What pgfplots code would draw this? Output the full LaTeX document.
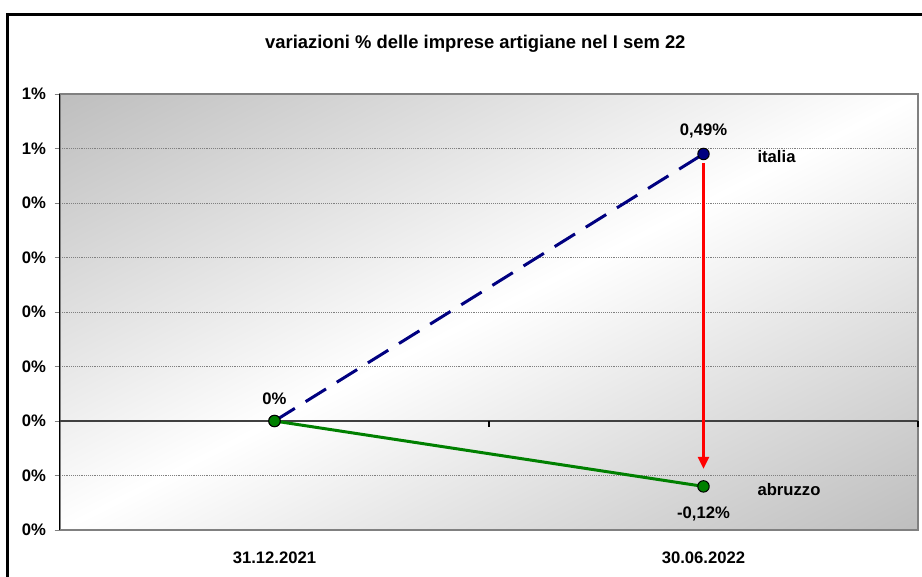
\documentclass[border=0pt]{standalone}
\usepackage{pgfplots}
\pgfplotsset{compat=1.18}
\usepackage{fontspec}
\setmainfont{Liberation Sans}
\usetikzlibrary{arrows.meta}
\definecolor{navyline}{RGB}{0,0,128}
\definecolor{greenline}{RGB}{0,128,0}
\definecolor{gridgray}{RGB}{128,128,128}
\definecolor{bggray}{RGB}{190,190,190}
\begin{document}
\begin{tikzpicture}
\useasboundingbox (0,0) rectangle (691.5pt,432pt);
\clip (0,0) rectangle (691.5pt,432pt);
\fill[white] (0,0) rectangle (691.5pt,432pt);
\draw[black, line width=2.25pt] (5.6pt,-20pt) -- (5.6pt,421.1pt) -- (720pt,421.1pt);
\node[font=\bfseries\fontsize{13.8}{16}\selectfont] at (356.5pt,399.5pt) {variazioni \% delle imprese artigiane nel I sem 22};
% plot area background: diagonal gradient (grey - white - grey)
\begin{scope}
\clip (45pt,34.5pt) rectangle (688.5pt,361.5pt);
\shade[transform canvas={rotate around={-63.1:(366.75pt,198pt)}},
  left color=bggray, right color=bggray, middle color=white]
  (366.75pt-291pt,198pt-370pt) rectangle (366.75pt+291pt,198pt+370pt);
\end{scope}
\begin{axis}[
  at={(45pt,34.5pt)}, anchor=south west,
  scale only axis, width=643.5pt, height=327pt,
  xmin=-0.5, xmax=1.5, ymin=-0.2, ymax=0.6,
  xtick={0,1}, xticklabels={31.12.2021,30.06.2022},
  ytick={-0.2,-0.1,0,0.1,0.2,0.3,0.4,0.5,0.6},
  yticklabels={0\%,0\%,0\%,0\%,0\%,0\%,0\%,1\%,1\%},
  tick label style={font=\bfseries\fontsize{12.5}{15}\selectfont},
  /pgf/number format/assume math mode=true,
  x tick style={draw=none},
  xtick pos=bottom, ytick pos=left,
  y tick style={gridgray, line width=0.75pt},
  major tick length=4pt,
  tick align=outside,
  xticklabel style={yshift=-9pt},
  yticklabel style={xshift=-3pt},
  ymajorgrids, grid style={gridgray, densely dotted, line width=0.75pt},
  axis line style={gridgray, line width=1pt},
  clip=false,
]
\draw[black, line width=0.75pt] (axis cs:-0.5,0.6) -- (axis cs:-0.5,-0.2);
\draw[black!75, line width=1.2pt] (axis cs:-0.5,0) -- (axis cs:1.5,0);
\draw[black, line width=0.9pt] (axis cs:0.5,0) -- ([yshift=-4.5pt]axis cs:0.5,0);
\draw[black, line width=0.9pt] (axis cs:1.5,0) -- ([yshift=-4.5pt]axis cs:1.5,0);
\addplot[navyline, line width=2.25pt, dash pattern=on 18pt off 9.5pt,
  mark=*, mark size=4.3pt, mark options={solid, fill=navyline, draw=black, line width=0.75pt}]
  coordinates {(0,0) (1,0.49)};
\addplot[greenline, line width=2.25pt,
  mark=*, mark size=4.3pt, mark options={fill=greenline, draw=black, line width=0.75pt}]
  coordinates {(0,0) (1,-0.12)};
\addplot[red, line width=2.25pt, -{Triangle[width=8pt,length=9pt]}]
  coordinates {(1,0.473) (1,-0.088)};
\node[font=\bfseries\fontsize{12.5}{15}\selectfont] at (axis cs:1,0.49) [yshift=17pt] {0,49\%};
\node[font=\bfseries\fontsize{12.5}{15}\selectfont, anchor=west] at (axis cs:1,0.49) [xshift=37pt, yshift=-2pt] {italia};
\node[font=\bfseries\fontsize{12.5}{15}\selectfont] at (axis cs:0,0) [yshift=17pt] {0\%};
\node[font=\bfseries\fontsize{12.5}{15}\selectfont, anchor=west] at (axis cs:1,-0.12) [xshift=37pt, yshift=-2pt] {abruzzo};
\node[font=\bfseries\fontsize{12.5}{15}\selectfont] at (axis cs:1,-0.12) [yshift=-21pt] {-0,12\%};
\end{axis}
\end{tikzpicture}
\end{document}
